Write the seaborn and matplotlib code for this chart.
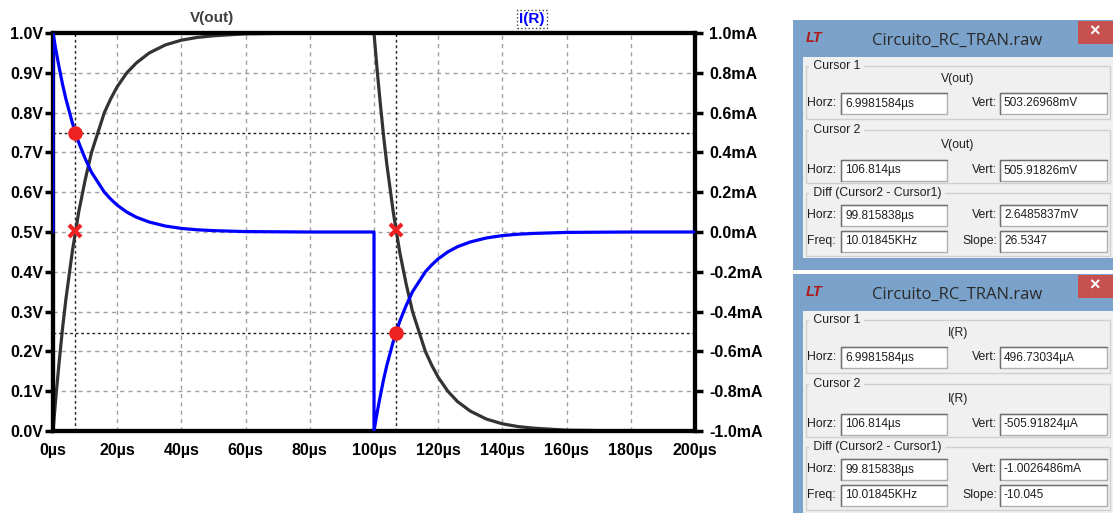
import matplotlib
matplotlib.use("Agg")
import matplotlib.pyplot as plt
import seaborn as sns
from matplotlib.patches import Rectangle

# ---------------- data ----------------
time_v = [0, 1, 2, 3, 4, 5, 6, 7, 8, 10, 12, 14, 16, 18, 20, 23, 26, 30, 35, 40, 45, 50, 60, 70, 80, 90, 100,
          101, 102, 103, 104, 105, 106, 107, 108, 110, 112, 114, 116, 118, 120, 123, 126, 130, 135, 140, 145,
          150, 160, 170, 180, 190, 200]
v_out = [0.0, 0.095, 0.18, 0.26, 0.33, 0.39, 0.45, 0.50, 0.55, 0.63, 0.70, 0.75, 0.80, 0.835, 0.865, 0.90,
         0.925, 0.95, 0.97, 0.982, 0.989, 0.993, 0.998, 0.999, 1.0, 1.0, 1.0,
         0.905, 0.82, 0.74, 0.67, 0.61, 0.55, 0.50, 0.45, 0.37, 0.30, 0.25, 0.20, 0.165, 0.135, 0.10, 0.074,
         0.05, 0.03, 0.018, 0.011, 0.007, 0.002, 0.001, 0.0, 0.0, 0.0]

time_i = [0, 0, 1, 2, 3, 4, 5, 6, 7, 8, 10, 12, 14, 16, 18, 20, 23, 26, 30, 35, 40, 45, 50, 60, 70, 80, 90, 100,
          100, 101, 102, 103, 104, 105, 106, 107, 108, 110, 112, 114, 116, 118, 120, 123, 126, 130, 135, 140,
          145, 150, 160, 170, 180, 190, 200]
i_r = [0.0, 1.0, 0.905, 0.82, 0.74, 0.67, 0.61, 0.55, 0.50, 0.45, 0.37, 0.30, 0.25, 0.20, 0.165, 0.135, 0.10,
       0.074, 0.05, 0.03, 0.018, 0.011, 0.007, 0.002, 0.001, 0.0, 0.0, 0.0,
       -1.0, -0.905, -0.82, -0.74, -0.67, -0.61, -0.55, -0.50, -0.45, -0.37, -0.30, -0.25, -0.20, -0.165,
       -0.135, -0.10, -0.074, -0.05, -0.03, -0.018, -0.011, -0.007, -0.002, -0.001, 0.0, 0.0, 0.0]

x_ticks = [0, 20, 40, 60, 80, 100, 120, 140, 160, 180, 200]
x_tick_labels = ["0µs", "20µs", "40µs", "60µs", "80µs", "100µs", "120µs", "140µs", "160µs", "180µs", "200µs"]
left_ticks = [0.0, 0.1, 0.2, 0.3, 0.4, 0.5, 0.6, 0.7, 0.8, 0.9, 1.0]
left_labels = ["0.0V", "0.1V", "0.2V", "0.3V", "0.4V", "0.5V", "0.6V", "0.7V", "0.8V", "0.9V", "1.0V"]
right_ticks = [-1.0, -0.8, -0.6, -0.4, -0.2, 0.0, 0.2, 0.4, 0.6, 0.8, 1.0]
right_labels = ["-1.0mA", "-0.8mA", "-0.6mA", "-0.4mA", "-0.2mA", "0.0mA", "0.2mA", "0.4mA", "0.6mA",
                "0.8mA", "1.0mA"]

cursor_t = [6.9981584, 106.814]
cursor_v = [0.50326968, 0.50591826]
cursor_i = [0.49673034, -0.50591824]

window_title = "Circuito_RC_TRAN.raw"
win1_trace = "V(out)"
win1_values = ["6.9981584µs", "503.26968mV", "106.814µs", "505.91826mV",
               "99.815838µs", "2.6485837mV", "10.01845KHz", "26.5347"]
win2_trace = "I(R)"
win2_values = ["6.9981584µs", "496.73034µA", "106.814µs", "-505.91824µA",
               "99.815838µs", "-1.0026486mA", "10.01845KHz", "-10.045"]

# ---------------- style ----------------
sns.set_theme(style="white")
plt.rcParams["font.family"] = ["Liberation Sans", "DejaVu Sans"]

W, H = 1113, 513
fig = plt.figure(figsize=(W / 100, H / 100), dpi=100)
fig.patch.set_facecolor("white")

ax = fig.add_axes([53 / W, (H - 431) / H, 642 / W, 398 / H])
ax2 = ax.twinx()

ax.set_xlim(0, 200)
ax.set_ylim(0, 1)
ax2.set_ylim(-1, 1)

ax.set_xticks(x_ticks)
ax.set_xticklabels(x_tick_labels, fontweight="bold", fontsize=11.5)
ax.set_yticks(left_ticks)
ax.set_yticklabels(left_labels, fontweight="bold", fontsize=11.5)
ax2.set_yticks(right_ticks)
ax2.set_yticklabels(right_labels, fontweight="bold", fontsize=11.5)

ax.grid(True, color="#a0a0a0", linestyle=(0, (3, 3)), linewidth=1)
ax.set_axisbelow(True)

# cursor cross-hairs
for t in cursor_t:
    ax.axvline(t, color="#222222", linestyle=(0, (2, 2)), linewidth=1, zorder=1)
for iv in cursor_i:
    ax2.axhline(iv, color="#222222", linestyle=(0, (2, 2)), linewidth=1, zorder=1)

sns.lineplot(x=time_v, y=v_out, ax=ax, color="#333333", linewidth=2.3, estimator=None, sort=False, zorder=3)
sns.lineplot(x=time_i, y=i_r, ax=ax2, color="#0000ff", linewidth=2.3, estimator=None, sort=False, zorder=3)

ax.plot(cursor_t, cursor_v, linestyle="none", marker="x", markersize=8, markeredgewidth=3,
        color="#ee2222", zorder=5)
ax2.plot(cursor_t, cursor_i, linestyle="none", marker="o", markersize=9.5, color="#ee2222", zorder=5)

for a in (ax, ax2):
    a.set_xlabel("")
    a.set_ylabel("")
    for s in a.spines.values():
        s.set_color("black")
        s.set_linewidth(3)
        s.set_visible(True)
ax.tick_params(axis="both", direction="out", length=6, width=2.5, color="black", pad=1, labelcolor="black")
ax.tick_params(axis="x", pad=3)
ax2.tick_params(axis="y", direction="out", length=6, width=2.5, color="black", pad=4, labelcolor="black")

# ---------------- overlay in pixel coordinates ----------------
ov = fig.add_axes([0, 0, 1, 1], zorder=10)
ov.set_xlim(0, W)
ov.set_ylim(H, 0)
ov.axis("off")
ov.patch.set_alpha(0)

ov.text(212, 18, "V(out)", ha="center", va="center", fontsize=11, fontweight="bold", color="#404040")
ov.text(532, 19, "I(R)", ha="center", va="center", fontsize=11, fontweight="bold", color="#0000ff",
        bbox=dict(boxstyle="square,pad=0.12", fc="white", ec="#444444", ls=":", lw=1))

FRAME = "#7ba2ca"
PANEL = "#f0f0f0"
TXT = "#1e1e1e"


def textbox(x, yb, w, h, val):
    ov.add_patch(Rectangle((x, yb), w, h, fc="white", ec="#b0b0b0", lw=1))
    ov.plot([x, x, x + w], [yb + h, yb, yb], color="#707070", lw=1)
    ov.text(x + 4, yb + h / 2 + 0.5, val, ha="left", va="center", fontsize=8.6, color=TXT)


def group(y_top, y_bot, label):
    ov.add_patch(Rectangle((806, y_top), 304, y_bot - y_top, fc="none", ec="#d0d0d0", lw=1))
    ov.text(810, y_top, " " + label + " ", ha="left", va="center", fontsize=8.8, color=TXT,
            bbox=dict(boxstyle="square,pad=0.05", fc=PANEL, ec="none"))


def row(yc, left_lab, v1, right_lab, v2):
    ov.text(807, yc, left_lab, ha="left", va="center", fontsize=8.8, color=TXT)
    textbox(841, yc - 10.5, 106, 21, v1)
    ov.text(997, yc, right_lab, ha="right", va="center", fontsize=8.8, color=TXT)
    textbox(1000, yc - 10.5, 107, 21, v2)


def window(y0, y_end, trace, vals):
    ov.add_patch(Rectangle((793, y0), 330, y_end - y0, fc=FRAME, ec="none"))
    ov.add_patch(Rectangle((803, y0 + 37), 320, y_end - y0 - 37 - (12 if y_end < H else 0),
                           fc=PANEL, ec="none"))
    ov.text(957, y0 + 21, window_title, ha="center", va="center", fontsize=12, color="#2a2a2a",
            family=["Open Sans", "DejaVu Sans"])
    ov.text(806, y0 + 18, "LT", ha="left", va="center", fontsize=10.5, fontweight="bold",
            fontstyle="italic", color="#b01818")
    ov.add_patch(Rectangle((1078, y0 + 1), 36, 23, fc="#c75050", ec="none"))
    ov.text(1095, y0 + 12, "×", ha="center", va="center", fontsize=13, fontweight="bold", color="white")
    group(y0 + 46, y0 + 99, "Cursor 1")
    ov.text(958, y0 + 59, trace, ha="center", va="center", fontsize=8.8, color=TXT)
    row(y0 + 83, "Horz:", vals[0], "Vert:", vals[1])
    group(y0 + 110, y0 + 163, "Cursor 2")
    ov.text(958, y0 + 125, trace, ha="center", va="center", fontsize=8.8, color=TXT)
    row(y0 + 150, "Horz:", vals[2], "Vert:", vals[3])
    group(y0 + 173, y0 + 236, "Diff (Cursor2 - Cursor1)")
    row(y0 + 195, "Horz:", vals[4], "Vert:", vals[5])
    row(y0 + 221, "Freq:", vals[6], "Slope:", vals[7])


window(20, 270, win1_trace, win1_values)
window(274, H + 5, win2_trace, win2_values)

fig.savefig("out.png", dpi=100)
